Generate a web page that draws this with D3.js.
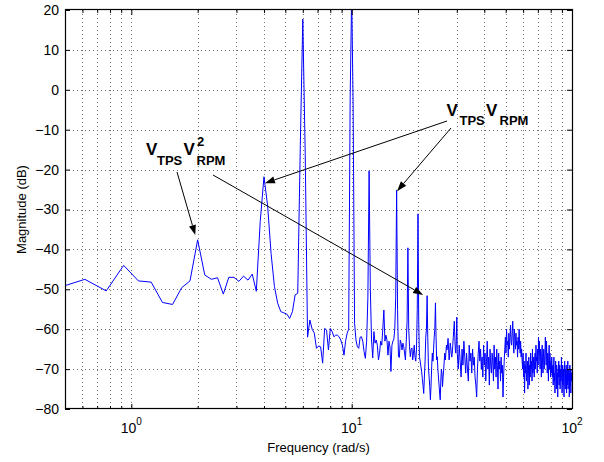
<!DOCTYPE html>
<html>
<head>
<meta charset="utf-8">
<script src="https://cdn.jsdelivr.net/npm/d3@7"></script>
<style>
    body { margin: 0; background: #fff; }
    text { font-family: "Liberation Sans", Arial, Helvetica, sans-serif; }
</style>
</head>
<body>
<svg id="base" width="604" height="462"></svg>
<script>
// fft bin spacing (rad/s), bin k sits at k * binStep
let binStep = 2 / 13

// bins 3..64
let lowStart = 3
let magLow = [-49.7, -47.5, -50.4, -44.0, -47.9, -48.2, -53.3, -53.8, -49.6, -47.9,
    -37.6, -46.4, -47.5, -47.1, -51.2, -47.0, -47.0, -48.0, -46.7, -47.7,
    -46.2, -50.5, -33, -21.8, -29, -41, -49.3, -53.5, -55.6, -55.9,
    -56.2, -57.3, -55.6, -51.4, -51.0, -14, 17.7, -16, -62, -57.7,
    -60, -61, -64.8, -64.2, -64.4, -68.5, -59.8, -60.2, -65.2, -59.8,
    -60.6, -61.9, -61.5, -61.5, -61.9, -62.7, -64, -66.5, -63, -61,
    -60, -2
]

// bins 65..195
let midStart = 65
let magMid = [24, -4, -58.5, -62.7, -64.4, -64.8, -62, -61.9, -63, -65.6,
    -67.3, -63, -52, -20.3, -50, -62.7, -67.2, -60.6, -63.5, -62.7,
    -64, -67.7, -66, -63, -64, -60, -55.2, -63, -61.5, -62.7,
    -66.5, -63, -64.5, -70.6, -64, -63, -62.5, -60, -52, -25.1,
    -55, -66.9, -67.1, -62.7, -63.5, -65.2, -63.5, -64.4, -66, -67.7,
    -63, -58, -39.6, -60, -64.4, -66.9, -65, -64.7, -67.7, -66,
    -64, -67, -68, -65, -55, -31.1, -58, -66.9, -68, -69.4,
    -70.5, -72.3, -74, -76.1, -72, -68, -62, -60, -51.6, -62,
    -69.4, -72, -74.4, -77.7, -74, -69.4, -66, -68, -65, -62,
    -60, -53.4, -62, -67.7, -66.9, -70, -72, -74, -76, -77.7,
    -73, -70, -71, -74.4, -72, -70.2, -68, -66, -67.7, -66,
    -64, -65.2, -64, -62.3, -65, -67.7, -66, -63.5, -64.4, -66,
    -67, -66, -64, -62, -60, -58, -62, -65, -66, -63, -57
]

// every 2nd bin from 196 up to 650 (100 rad/s)
let highStart = 196
let highStride = 2
let magHigh = [-66, -70, -64, -68, -72, -65, -69, -63, -67, -71, -66, -70, -73, -64, -68, -66, -71, -65, -69, -67, -72,
    -74, -77, -70, -66, -63, -68, -65,
    -70, -67, -72, -64, -69, -66, -73, -68, -63, -70, -67, -74, -65, -69, -71, -66, -68, -73, -64, -70,
    -67, -72, -65, -69, -75, -66, -70, -68, -73, -67, -71, -69, -77, -72, -68,
    -65, -62, -66, -60, -64, -63, -67, -61, -65, -62, -59, -63, -64, -61, -58, -63, -66, -60, -62, -65,
    -61, -64, -63, -67, -62, -65, -60, -64, -66, -63, -67, -65, -68,
    -70, -66, -72, -68, -76, -69, -71, -66, -73, -70, -68, -75, -71, -67, -74, -69, -72, -66, -70, -68,
    -73, -65, -71, -69, -67, -72, -68,
    -66, -70, -64, -68, -67, -71, -65, -69, -62, -66, -63, -68, -70, -65, -67, -72, -66, -64, -69, -71,
    -67, -65, -70, -68, -66, -62, -65, -69, -63, -67, -71, -66, -68, -73, -67, -64, -70, -66, -69, -72,
    -68, -71, -67, -70,
    -72, -69, -74, -70, -67, -73, -71, -76, -70, -68, -72, -75, -69, -73, -71, -77, -70, -72, -68, -74,
    -71, -69, -75, -72, -70, -73, -67, -71, -76, -72, -69, -74, -70, -73, -77, -71, -68, -72, -75, -70,
    -73, -69, -76, -71, -74, -72, -68, -75, -70, -73, -71, -77, -72, -69, -74, -70, -76, -72, -71, -73, -70
]

let yTicks = [-80, -70, -60, -50, -40, -30, -20, -10, 0, 10, 20]
let xMajor = [1, 10, 100]
let xMinor = [0.6, 0.7, 0.8, 0.9, 2, 3, 4, 5, 6, 7, 8, 9, 20, 30, 40, 50, 60, 70, 80, 90]
let xLabelExp = ["0", "1", "2"]

// arrows: [start x, start y, target freq, target dB]
let arrows = [
    [177, 172, 1.95, -36.4],
    [213, 175, 21.1, -51.4],
    [447, 121, 4.04, -23.4],
    [451, 128, 16.07, -25.4]
]

let pLeft = 65, pRight = 572, pTop = 10, pBottom = 409
let x = d3.scaleLog().domain([0.5, 100]).range([pLeft, pRight])
let y = d3.scaleLinear().domain([-80, 20]).range([pBottom, pTop])

const base = d3.select('#base')

let points = []
magLow.forEach((m, i) => points.push([(lowStart + i) * binStep, m]))
magMid.forEach((m, i) => points.push([(midStart + i) * binStep, m]))
magHigh.forEach((m, i) => points.push([(highStart + i * highStride) * binStep, m]))

base.append('clipPath').attr('id', 'plotclip')
    .append('rect')
    .attr('x', pLeft).attr('y', pTop)
    .attr('width', pRight - pLeft).attr('height', pBottom - pTop)

// dotted grid
let grid = base.append('g')
    .attr('stroke', '#000')
    .attr('stroke-width', 1)
    .attr('stroke-dasharray', '1,3')
    .attr('opacity', 0.55)
    .attr('shape-rendering', 'crispEdges')
xMinor.concat([1, 10]).forEach(v => {
    grid.append('line')
        .attr('x1', Math.round(x(v)) + 0.5).attr('x2', Math.round(x(v)) + 0.5)
        .attr('y1', pTop).attr('y2', pBottom)
})
yTicks.slice(1, -1).forEach(v => {
    grid.append('line')
        .attr('x1', pLeft).attr('x2', pRight)
        .attr('y1', Math.round(y(v)) + 0.5).attr('y2', Math.round(y(v)) + 0.5)
})

// spectrum
base.append('path')
    .datum(points)
    .attr('clip-path', 'url(#plotclip)')
    .attr('fill', 'none')
    .attr('stroke', '#0000ff')
    .attr('stroke-width', 1)
    .attr('stroke-linejoin', 'round')
    .attr('d', d3.line().x(d => x(d[0])).y(d => y(d[1])))

// axes, ticks pointing inward
function axisGroup(axis, tx, ty) {
    let g = base.append('g')
        .attr('transform', 'translate(' + tx + ',' + ty + ')')
        .call(axis)
    g.select('.domain').remove()
    g.selectAll('line').attr('stroke', '#000')
    return g
}

let yl = axisGroup(d3.axisLeft(y).tickValues(yTicks).tickSize(-5).tickPadding(6), pLeft, 0)
yl.selectAll('text').attr('font-size', 14).attr('fill', '#000')
    .attr('font-family', '"Liberation Sans", Arial, sans-serif')
axisGroup(d3.axisRight(y).tickValues(yTicks).tickSize(-5).tickFormat(''), pRight, 0)
axisGroup(d3.axisBottom(x).tickValues(xMajor).tickSize(-5).tickFormat(''), 0, pBottom)
axisGroup(d3.axisBottom(x).tickValues(xMinor).tickSize(-3).tickFormat(''), 0, pBottom)
axisGroup(d3.axisTop(x).tickValues(xMajor).tickSize(-5).tickFormat(''), 0, pTop)
axisGroup(d3.axisTop(x).tickValues(xMinor).tickSize(-3).tickFormat(''), 0, pTop)

// x tick labels 10^n
xMajor.forEach((v, i) => {
    let t = base.append('text')
        .attr('x', x(v))
        .attr('y', 433)
        .attr('text-anchor', 'middle')
        .attr('font-size', 14)
    t.append('tspan').text('10')
    t.append('tspan').attr('font-size', 10).attr('dy', -8).text(xLabelExp[i])
})

// frame
base.append('rect')
    .attr('x', pLeft + 0.5).attr('y', pTop - 0.5)
    .attr('width', pRight - pLeft).attr('height', pBottom - pTop)
    .attr('fill', 'none')
    .attr('stroke', '#000')
    .attr('stroke-width', 1.2)

base.append('text')
    .attr('x', (pLeft + pRight) / 2)
    .attr('y', 452)
    .attr('text-anchor', 'middle')
    .attr('font-size', 13)
    .text('Frequency (rad/s)')

base.append('text')
    .attr('transform', 'translate(26,' + (pTop + pBottom) / 2 + ') rotate(-90)')
    .attr('text-anchor', 'middle')
    .attr('font-size', 13)
    .text('Magnitude (dB)')

// annotations
function piece(tx, ty, s, size) {
    base.append('text')
        .attr('x', tx).attr('y', ty)
        .attr('font-size', size)
        .attr('font-weight', 'bold')
        .text(s)
}

piece(146, 155, 'V', 17)
piece(157, 165, 'TPS', 13)
piece(183.5, 155, 'V', 17)
piece(197, 146, '2', 13)
piece(196.5, 165, 'RPM', 13)

piece(446.5, 116, 'V', 17)
piece(459.5, 125, 'TPS', 13)
piece(486, 116, 'V', 17)
piece(499.5, 125, 'RPM', 13)

arrows.forEach(a => {
    let x1 = a[0], y1 = a[1]
    let x2 = x(a[2]), y2 = y(a[3])
    let dx = x2 - x1, dy = y2 - y1
    let len = Math.sqrt(dx * dx + dy * dy)
    let ux = dx / len, uy = dy / len
    let hl = 10, hw = 3.5
    let bx = x2 - ux * hl, by = y2 - uy * hl
    base.append('line')
        .attr('x1', x1).attr('y1', y1)
        .attr('x2', bx).attr('y2', by)
        .attr('stroke', '#000')
        .attr('stroke-width', 1)
    base.append('path')
        .attr('d', 'M' + x2 + ',' + y2 +
            'L' + (bx - uy * hw) + ',' + (by + ux * hw) +
            'L' + (bx + uy * hw) + ',' + (by - ux * hw) + 'Z')
        .attr('fill', '#000')
})
</script>
</body>
</html>
